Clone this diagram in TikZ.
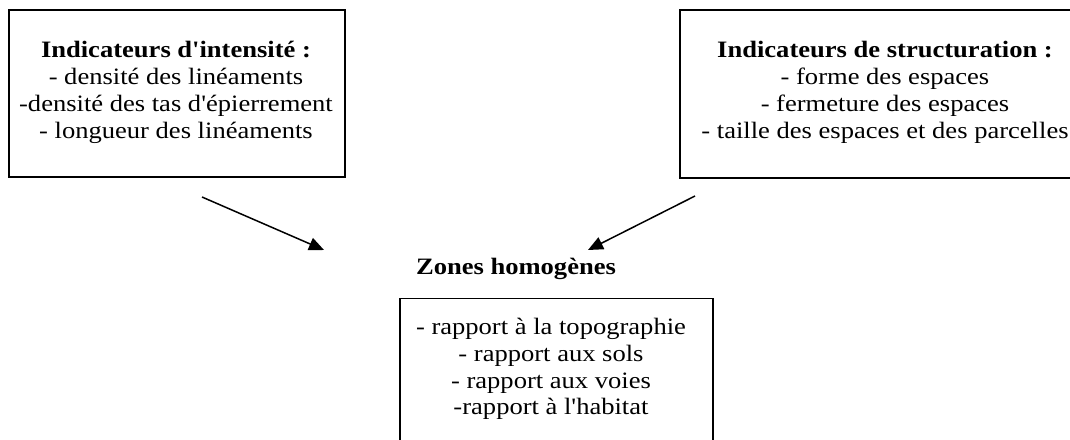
\documentclass[tikz,border=0pt]{standalone}
\usepackage{fontspec}
\setmainfont{Liberation Serif}[Ligatures=TeXOff, FakeStretch=1.13]
\usetikzlibrary{arrows.meta,positioning}

\begin{document}
\begin{tikzpicture}[x=1pt, y=-1pt, line width=1.4pt,
  cadre/.style={draw, line width=1.4pt, inner sep=0pt},
  texte/.style={align=center, inner sep=0pt, font=\fontsize{23.5}{26.8}\selectfont},
  titre/.style={inner sep=0pt, font=\fontsize{23.5}{26.8}\selectfont\bfseries},
  fleche/.style={-{Triangle[length=15pt,width=13pt]}, line width=1.5pt}]

  %% ==== cadres du haut ====
  \node[cadre, minimum width=336pt, minimum height=167pt] (intens) at (177,93.5) {};
  \node[texte] (intenstxt) at (176,92.5)
    {\textbf{Indicateurs d'intensité :}\\- densité des linéaments\\-densité des tas d'épierrement\\- longueur des linéaments};
  \node[cadre, minimum width=406pt, minimum height=168pt] (struct) at (883,94) {};
  \node[texte] (structtxt) at (885,92.5)
    {\textbf{Indicateurs de structuration :}\\- forme des espaces\\- fermeture des espaces\\- taille des espaces et des parcelles};

  %% ==== zones homogènes ====
  \node[titre, anchor=base] (zones) at (516,274) {Zones homogènes};
  \node[cadre, anchor=north, minimum width=313pt, minimum height=180pt] (zonebox) at (556.5,298) {};
  \node[texte] (zonetxt) at (551,369)
    {- rapport à la topographie\\- rapport aux sols\\- rapport aux voies\\-rapport à l'habitat};

  %% ==== flèches ====
  \coordinate (depgauche) at (202,197);
  \coordinate (arrgauche) at (324,250);
  \coordinate (depdroite) at (695,196);
  \coordinate (arrdroite) at (588,250);
  \draw[fleche] (depgauche) -- (arrgauche);
  \draw[fleche] (depdroite) -- (arrdroite);

  % cadre de la page
  \pgfresetboundingbox
  \path[use as bounding box] (0,0) rectangle (1070,439);
\end{tikzpicture}
\end{document}
